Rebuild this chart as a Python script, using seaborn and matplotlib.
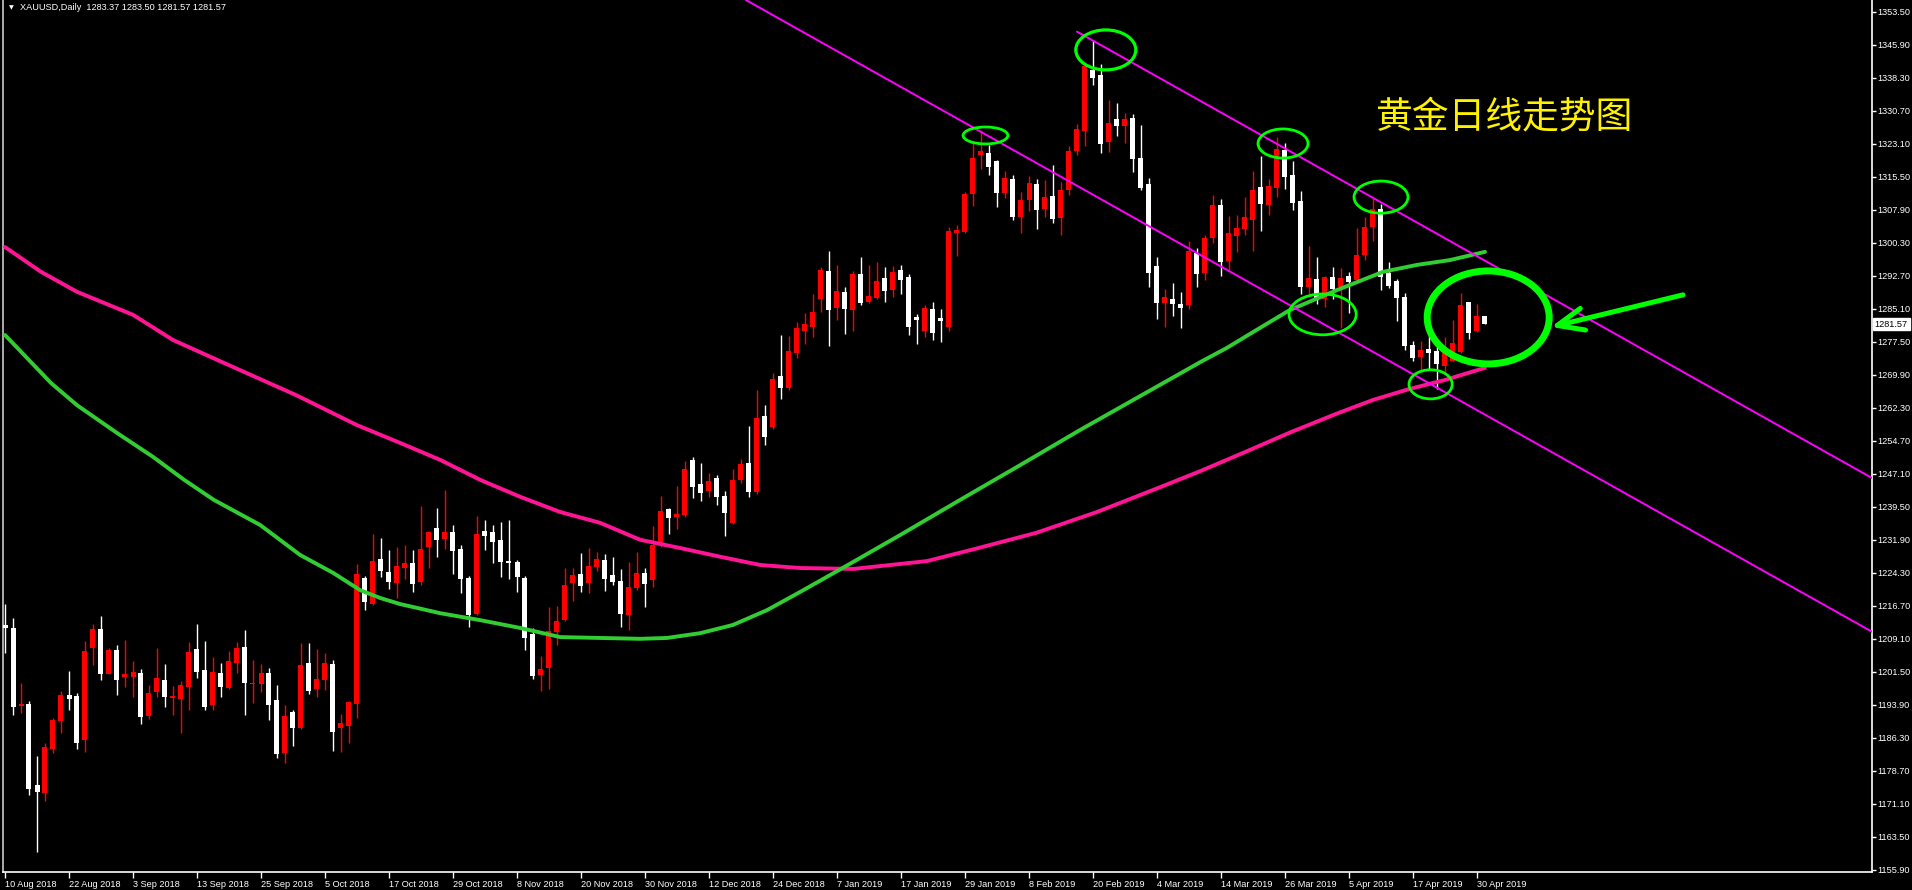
import numpy as np
import pandas as pd
import matplotlib
matplotlib.use("Agg")
import matplotlib.pyplot as plt
from matplotlib.patches import Ellipse
import matplotlib.transforms as mtransforms
import seaborn as sns

# ---------------- data ----------------
opens = [1212.2, 1211.6, 1193.6, 1194.1, 1175.4, 1173.5, 1183.7, 1190.2, 1196.2, 1195.9,
         1185.7, 1207.1, 1211.4, 1201.0, 1206.5, 1200.3, 1200.3, 1201.2, 1191.3, 1196.9,
         1199.6, 1195.5, 1195.2, 1198.0, 1206.8, 1201.9, 1193.9, 1201.2, 1197.8, 1203.5,
         1207.2, 1198.7, 1198.7, 1201.2, 1195.0, 1182.8, 1192.3, 1188.6, 1203.5, 1197.6,
         1199.6, 1203.3, 1188.6, 1189.0, 1194.1, 1223.1, 1217.1, 1227.5, 1224.5, 1222.0,
         1225.4, 1226.6, 1222.2, 1230.2, 1234.6, 1232.1, 1233.7, 1229.8, 1223.1, 1214.8,
         1233.9, 1233.7, 1231.9, 1227.0, 1226.8, 1223.1, 1210.2, 1200.8, 1202.4, 1210.7,
         1213.4, 1222.0, 1224.0, 1222.0, 1225.6, 1227.3, 1223.8, 1222.4, 1214.6, 1220.8,
         1224.3, 1222.7, 1230.7, 1239.0, 1237.2, 1237.6, 1250.3, 1244.8, 1243.1, 1246.1,
         1242.0, 1235.8, 1245.7, 1249.6, 1242.9, 1260.4, 1257.9, 1269.6, 1266.9, 1274.9,
         1280.0, 1280.9, 1287.4, 1293.8, 1285.3, 1289.0, 1284.8, 1293.1, 1286.7, 1287.6,
         1292.2, 1289.4, 1294.0, 1292.4, 1283.2, 1280.0, 1285.0, 1282.9, 1281.0, 1302.6,
         1302.8, 1311.5, 1320.5, 1321.0, 1319.1, 1311.8, 1315.0, 1306.2, 1310.2, 1313.8,
         1308.1, 1311.1, 1306.0, 1312.5, 1321.4, 1326.0, 1340.1, 1338.9, 1323.5, 1328.8,
         1327.2, 1329.0, 1319.8, 1313.8, 1294.9, 1286.4, 1287.4, 1286.2, 1286.0, 1297.9,
         1293.3, 1301.4, 1309.0, 1296.1, 1301.9, 1303.5, 1305.5, 1313.1, 1309.0, 1312.9,
         1321.7, 1315.9, 1309.9, 1290.1, 1291.9, 1287.4, 1292.4, 1290.1, 1292.7, 1291.7,
         1297.5, 1303.9, 1308.1, 1293.3, 1291.5, 1287.8, 1276.8, 1273.9, 1275.8, 1275.4,
         1271.9, 1273.1, 1275.2, 1286.7, 1279.9, 1283.37]
highs = [1217.1, 1213.9, 1198.9, 1194.7, 1182.1, 1185.0, 1190.9, 1197.1, 1201.7, 1196.6,
         1208.5, 1212.5, 1214.4, 1207.1, 1207.7, 1208.8, 1204.0, 1202.2, 1198.5, 1207.0,
         1203.3, 1198.2, 1199.4, 1208.4, 1212.5, 1208.6, 1204.9, 1203.5, 1206.3, 1208.4,
         1211.1, 1204.2, 1203.3, 1202.4, 1198.5, 1193.9, 1192.6, 1208.1, 1208.1, 1206.8,
         1205.8, 1204.2, 1191.8, 1194.8, 1226.3, 1223.6, 1233.2, 1232.3, 1229.5, 1230.2,
         1230.7, 1229.6, 1239.7, 1233.9, 1239.2, 1243.4, 1235.3, 1230.7, 1223.6, 1237.4,
         1236.5, 1235.3, 1236.0, 1236.5, 1227.3, 1223.6, 1211.6, 1205.2, 1216.4, 1216.7,
         1225.4, 1225.4, 1228.9, 1230.0, 1229.1, 1228.6, 1227.9, 1225.2, 1226.8, 1229.1,
         1225.4, 1235.1, 1242.0, 1239.2, 1244.3, 1250.0, 1251.0, 1249.6, 1247.3, 1246.8,
         1243.1, 1248.2, 1250.5, 1258.1, 1266.4, 1262.9, 1270.3, 1279.1, 1278.8, 1282.1,
         1284.1, 1288.5, 1294.7, 1298.4, 1295.2, 1290.1, 1293.8, 1297.0, 1295.2, 1295.9,
         1294.7, 1294.9, 1295.2, 1293.0, 1284.0, 1286.0, 1286.7, 1285.1, 1303.9, 1304.4,
         1312.0, 1323.5, 1326.3, 1322.8, 1319.3, 1316.8, 1315.9, 1312.0, 1315.7, 1315.0,
         1314.7, 1318.2, 1314.3, 1322.6, 1327.7, 1341.6, 1347.0, 1341.5, 1333.2, 1332.5,
         1330.2, 1330.0, 1327.4, 1315.2, 1297.0, 1289.6, 1291.0, 1288.9, 1300.7, 1299.1,
         1302.1, 1311.3, 1310.4, 1306.5, 1306.7, 1310.8, 1316.8, 1320.3, 1315.0, 1324.7,
         1323.3, 1319.1, 1312.2, 1299.6, 1297.0, 1292.6, 1294.7, 1294.5, 1293.6, 1303.7,
         1306.2, 1310.6, 1309.2, 1295.9, 1291.9, 1288.7, 1277.7, 1277.7, 1279.7, 1276.4,
         1278.5, 1282.6, 1288.8, 1286.7, 1286.3, 1283.50]
lows = [1205.9, 1191.6, 1192.1, 1173.1, 1160.1, 1171.8, 1182.7, 1187.5, 1192.6, 1183.8,
        1183.1, 1203.1, 1199.6, 1201.0, 1196.2, 1198.0, 1195.7, 1189.5, 1190.6, 1195.7,
        1193.4, 1191.6, 1187.4, 1192.7, 1200.1, 1192.7, 1192.7, 1195.7, 1197.5, 1201.2,
        1191.6, 1194.3, 1196.9, 1190.4, 1181.7, 1180.5, 1184.4, 1188.3, 1196.4, 1195.7,
        1197.3, 1183.3, 1183.0, 1185.1, 1190.9, 1215.7, 1217.0, 1223.3, 1220.6, 1218.5,
        1222.9, 1219.9, 1221.5, 1225.4, 1227.9, 1229.8, 1224.0, 1219.7, 1211.8, 1214.6,
        1229.6, 1226.6, 1223.3, 1222.9, 1219.9, 1206.5, 1199.8, 1197.0, 1197.5, 1207.7,
        1213.2, 1217.8, 1219.9, 1219.7, 1224.7, 1220.1, 1221.5, 1211.8, 1211.1, 1220.4,
        1216.4, 1221.0, 1230.2, 1233.2, 1234.4, 1237.2, 1241.5, 1240.8, 1241.8, 1239.9,
        1232.8, 1235.5, 1245.0, 1241.8, 1242.5, 1253.7, 1257.5, 1264.3, 1266.4, 1273.8,
        1277.0, 1278.6, 1284.4, 1276.5, 1282.5, 1279.3, 1280.0, 1286.0, 1286.5, 1287.4,
        1286.7, 1287.8, 1288.5, 1279.0, 1277.0, 1278.5, 1278.0, 1277.5, 1280.0, 1297.3,
        1302.6, 1308.8, 1317.3, 1315.9, 1308.5, 1310.6, 1305.5, 1302.6, 1307.6, 1303.5,
        1306.2, 1304.9, 1302.1, 1311.3, 1320.5, 1322.6, 1336.6, 1321.0, 1321.2, 1324.9,
        1323.3, 1316.6, 1312.5, 1290.1, 1282.8, 1280.9, 1283.4, 1280.7, 1285.1, 1290.1,
        1291.7, 1300.2, 1292.7, 1294.0, 1298.2, 1302.1, 1298.4, 1303.0, 1306.7, 1310.8,
        1312.7, 1307.8, 1288.5, 1288.5, 1286.2, 1285.5, 1287.4, 1280.7, 1284.1, 1291.5,
        1296.3, 1300.7, 1289.4, 1289.9, 1282.3, 1275.6, 1273.0, 1271.1, 1271.1, 1266.6,
        1270.3, 1273.1, 1274.8, 1278.1, 1279.7, 1281.57]
closes = [1211.7, 1193.5, 1194.1, 1174.6, 1173.9, 1184.3, 1190.4, 1196.2, 1195.3, 1185.2,
          1206.3, 1211.4, 1201.0, 1206.5, 1199.6, 1201.0, 1201.5, 1191.1, 1196.6, 1200.1,
          1195.7, 1196.0, 1198.5, 1206.1, 1201.5, 1193.4, 1201.5, 1198.0, 1204.0, 1207.0,
          1198.9, 1199.0, 1201.2, 1193.9, 1182.6, 1191.3, 1188.6, 1203.1, 1197.1, 1199.9,
          1203.5, 1187.7, 1189.7, 1194.6, 1224.0, 1217.6, 1227.0, 1224.7, 1222.2, 1225.9,
          1226.6, 1221.7, 1229.8, 1233.7, 1231.9, 1233.7, 1229.3, 1222.9, 1214.6, 1233.2,
          1232.8, 1231.4, 1226.8, 1226.6, 1223.3, 1209.3, 1200.6, 1202.2, 1210.9, 1213.2,
          1221.5, 1223.8, 1221.3, 1225.9, 1227.5, 1222.9, 1222.2, 1214.8, 1221.0, 1224.3,
          1221.7, 1230.7, 1238.5, 1236.9, 1237.9, 1248.2, 1244.1, 1242.7, 1245.4, 1241.8,
          1238.1, 1245.7, 1249.4, 1242.9, 1259.9, 1255.6, 1268.9, 1266.9, 1275.4, 1280.7,
          1281.6, 1284.4, 1294.0, 1284.8, 1289.2, 1285.0, 1293.1, 1286.4, 1288.0, 1291.5,
          1289.2, 1293.6, 1291.7, 1281.0, 1282.5, 1285.3, 1279.5, 1282.3, 1303.0, 1303.2,
          1311.5, 1319.8, 1321.4, 1317.8, 1311.8, 1315.2, 1306.2, 1310.2, 1314.1, 1307.8,
          1310.8, 1305.8, 1312.5, 1321.4, 1326.5, 1341.0, 1338.2, 1323.0, 1327.9, 1327.2,
          1328.8, 1319.6, 1312.9, 1293.3, 1286.4, 1287.8, 1286.2, 1285.3, 1298.4, 1293.1,
          1301.4, 1309.0, 1295.9, 1302.5, 1303.7, 1306.2, 1312.5, 1309.2, 1313.4, 1321.9,
          1315.4, 1309.5, 1290.1, 1292.2, 1287.1, 1292.4, 1289.6, 1292.2, 1291.3, 1297.5,
          1303.9, 1308.1, 1292.4, 1290.3, 1287.6, 1276.5, 1273.7, 1275.6, 1274.8, 1272.3,
          1276.0, 1277.2, 1286.0, 1279.5, 1283.4, 1281.57]

# moving averages (bar index, price)
ma_green_bar = [0, 5.75, 9, 14, 18.5, 22.4, 26.1, 31.9, 36.9, 41, 44.4, 46.9, 49.4, 54.4,
                59.4, 64.4, 69.4, 74.4, 79.4, 82.75, 86.9, 91, 95.25, 99.4, 104.5, 111.9,
                119.4, 126.9, 134.4, 141.9, 149.4, 152.75, 156.25, 160.6, 166.5, 172.25,
                176.5, 180.6, 185]
ma_green_val = [1279.05, 1268.0, 1262.9, 1256.5, 1251.0, 1245.7, 1241.1, 1235.3, 1228.4,
                1224.3, 1220.3, 1218.5, 1217.1, 1215.0, 1213.4, 1211.6, 1209.5, 1209.3,
                1209.1, 1209.3, 1210.4, 1212.3, 1215.7, 1219.9, 1225.2, 1233.0, 1241.1,
                1249.1, 1257.2, 1265.0, 1272.8, 1276.1, 1280.0, 1284.8, 1289.4, 1293.6,
                1295.2, 1296.3, 1298.2]
ma_pink_bar = [0, 4.5, 9, 16, 21, 27.4, 36.4, 44, 49.4, 54.4, 59.4, 64.4, 69.4, 74.4, 79.4,
               84.4, 89.4, 94.4, 99.4, 106.1, 115.25, 121.25, 128.9, 136.5, 144.1, 149.4,
               155, 160.75, 166.4, 171, 175.5, 180, 185]
ma_pink_val = [1299.3, 1293.6, 1289.0, 1283.7, 1277.9, 1272.6, 1265.2, 1258.3, 1254.2,
               1250.3, 1245.7, 1241.8, 1238.3, 1235.8, 1231.9, 1230.0, 1228.0, 1226.1,
               1225.4, 1225.2, 1227.0, 1229.8, 1233.5, 1238.3, 1243.8, 1247.7, 1252.1,
               1256.7, 1260.9, 1264.1, 1266.6, 1268.7, 1271.5]

# channel lines (bar, price)
chan_lower_bar = [92.6, 233.4]
chan_lower_val = [1356.2, 1210.7]
chan_upper_bar = [134.0, 233.4]
chan_upper_val = [1348.9, 1246.1]

# annotation ellipses (centre bar, centre price, width in bars, height in price, line width)
ell_bar = [122.56, 137.6, 159.75, 172.0, 164.7, 178.2, 185.4]
ell_price = [1325.0, 1344.7, 1323.15, 1310.8, 1283.8, 1267.7, 1283.1]
ell_w = [5.6, 7.5, 6.25, 6.75, 8.4, 5.4, 15.25]
ell_h = [3.9, 9.2, 6.7, 7.4, 9.4, 6.7, 21.4]
ell_lw = [2.0, 2.3, 2.0, 2.0, 2.0, 2.0, 5.0]

# arrow (tail -> tip), bar/price
arrow_tail = (209.75, 1288.3)
arrow_tip = (193.25, 1280.9)

date_labels = ["10 Aug 2018", "22 Aug 2018", "3 Sep 2018", "13 Sep 2018", "25 Sep 2018",
               "5 Oct 2018", "17 Oct 2018", "29 Oct 2018", "8 Nov 2018", "20 Nov 2018",
               "30 Nov 2018", "12 Dec 2018", "24 Dec 2018", "7 Jan 2019", "17 Jan 2019",
               "29 Jan 2019", "8 Feb 2019", "20 Feb 2019", "4 Mar 2019", "14 Mar 2019",
               "26 Mar 2019", "5 Apr 2019", "17 Apr 2019", "30 Apr 2019"]
date_bars = [0, 8, 16, 24, 32, 40, 48, 56, 64, 72, 80, 88, 96, 104, 112, 120, 128, 136,
             144, 152, 160, 168, 176, 184]
price_ticks = [1155.90, 1163.50, 1171.10, 1178.70, 1186.30, 1193.90, 1201.50, 1209.10,
               1216.70, 1224.30, 1231.90, 1239.50, 1247.10, 1254.70, 1262.30, 1269.90,
               1277.50, 1285.10, 1292.70, 1300.30, 1307.90, 1315.50, 1323.10, 1330.70,
               1338.30, 1345.90, 1353.50]
header = "XAUUSD,Daily  1283.37 1283.50 1281.57 1281.57"
title_cn = "黄金日线走势图"
last_price = 1281.57

# ---------------- style ----------------
sns.set_style("dark", {"axes.facecolor": "black", "figure.facecolor": "black"})
plt.rcParams["font.family"] = ["Liberation Sans", "DejaVu Sans"]

W, H = 1912, 890
fig = plt.figure(figsize=(W / 100, H / 100), dpi=100, facecolor="black")
ax = fig.add_axes([3 / W, 18 / H, (1872 - 3) / W, 872 / H])
ax.set_facecolor("black")

df = pd.DataFrame({"open": opens, "high": highs, "low": lows, "close": closes})
df["bar"] = np.arange(len(df))
df["up"] = df["close"] >= df["open"]
df["color"] = np.where(df["up"], "#FF0000", "#FFFFFF")
df["bottom"] = df[["open", "close"]].min(axis=1)
df["height"] = (df["close"] - df["open"]).abs().clip(lower=0.25)

ax.vlines(df["bar"], df["low"], df["high"], colors=df["color"], linewidth=1.0, zorder=2)
ax.bar(df["bar"], df["height"], bottom=df["bottom"], width=0.625, color=df["color"],
       linewidth=0, zorder=3)

sns.lineplot(x=ma_pink_bar, y=ma_pink_val, ax=ax, color="#FF1493", linewidth=2.8,
             zorder=4, estimator=None, sort=False)
sns.lineplot(x=ma_green_bar, y=ma_green_val, ax=ax, color="#32CD32", linewidth=2.8,
             zorder=4, estimator=None, sort=False)
sns.lineplot(x=chan_lower_bar, y=chan_lower_val, ax=ax, color="#FF00FF", linewidth=1.4,
             zorder=5, estimator=None, sort=False)
sns.lineplot(x=chan_upper_bar, y=chan_upper_val, ax=ax, color="#FF00FF", linewidth=1.4,
             zorder=5, estimator=None, sort=False)

for b, p, w, h, lw in zip(ell_bar, ell_price, ell_w, ell_h, ell_lw):
    ax.add_patch(Ellipse((b, p), w, h, fill=False, edgecolor="#00FF00", linewidth=lw,
                         zorder=6))

ax.annotate("", xy=arrow_tip, xytext=arrow_tail,
            arrowprops=dict(arrowstyle="->,head_length=1.9,head_width=0.8",
                            color="#00FF00", lw=3.6, shrinkA=0, shrinkB=0), zorder=6)

ax.set_xlim(-0.25, 233.375)
ax.set_ylim(1155.41, 1356.19)

# axes frame
ax.spines["top"].set_visible(False)
ax.spines["right"].set_color("white")
ax.spines["bottom"].set_color("white")
ax.spines["left"].set_color("#C8C8C8")
for side in ["right", "bottom", "left"]:
    ax.spines[side].set_visible(True)
    ax.spines[side].set_linewidth(1.2)

ax.yaxis.tick_right()
ax.set_yticks(price_ticks)
ax.set_yticklabels([f"{v:.2f}" for v in price_ticks])
ax.tick_params(axis="y", colors="white", length=3, width=1, pad=1.2, labelsize=6.6,
               direction="out", right=True, left=False)
ax.set_xticks(date_bars)
ax.set_xticklabels(date_labels, ha="left")
ax.tick_params(axis="x", colors="white", length=4, width=1, pad=1.5, labelsize=6.6,
               direction="out", bottom=True)
ax.grid(False)
ax.set_xlabel("")
ax.set_ylabel("")

# current price box
trans = mtransforms.blended_transform_factory(ax.transAxes, ax.transData)
ax.annotate(f"{last_price:.2f}", xy=(1.0, last_price), xycoords=trans,
            xytext=(2.0, 0), textcoords="offset points", va="center", ha="left",
            fontsize=6.6, color="black", annotation_clip=False,
            bbox=dict(boxstyle="square,pad=0.18", facecolor="white", edgecolor="white"))

# header
fig.text(9 / W, 1 - 7.5 / H, "▼", color="white", fontsize=4.5, va="center", ha="left",
         family=["DejaVu Sans"])
fig.text(20 / W, 1 - 7.5 / H, header, color="white", fontsize=6.6, va="center", ha="left")

# Chinese title
fig.text(1505 / W, 1 - 117 / H, title_cn, color="#FFF200", fontsize=26.5, va="center",
         ha="center", family=["Noto Sans CJK SC", "DejaVu Sans"], fontweight="light")

fig.savefig("out.png", dpi=100, facecolor="black")
